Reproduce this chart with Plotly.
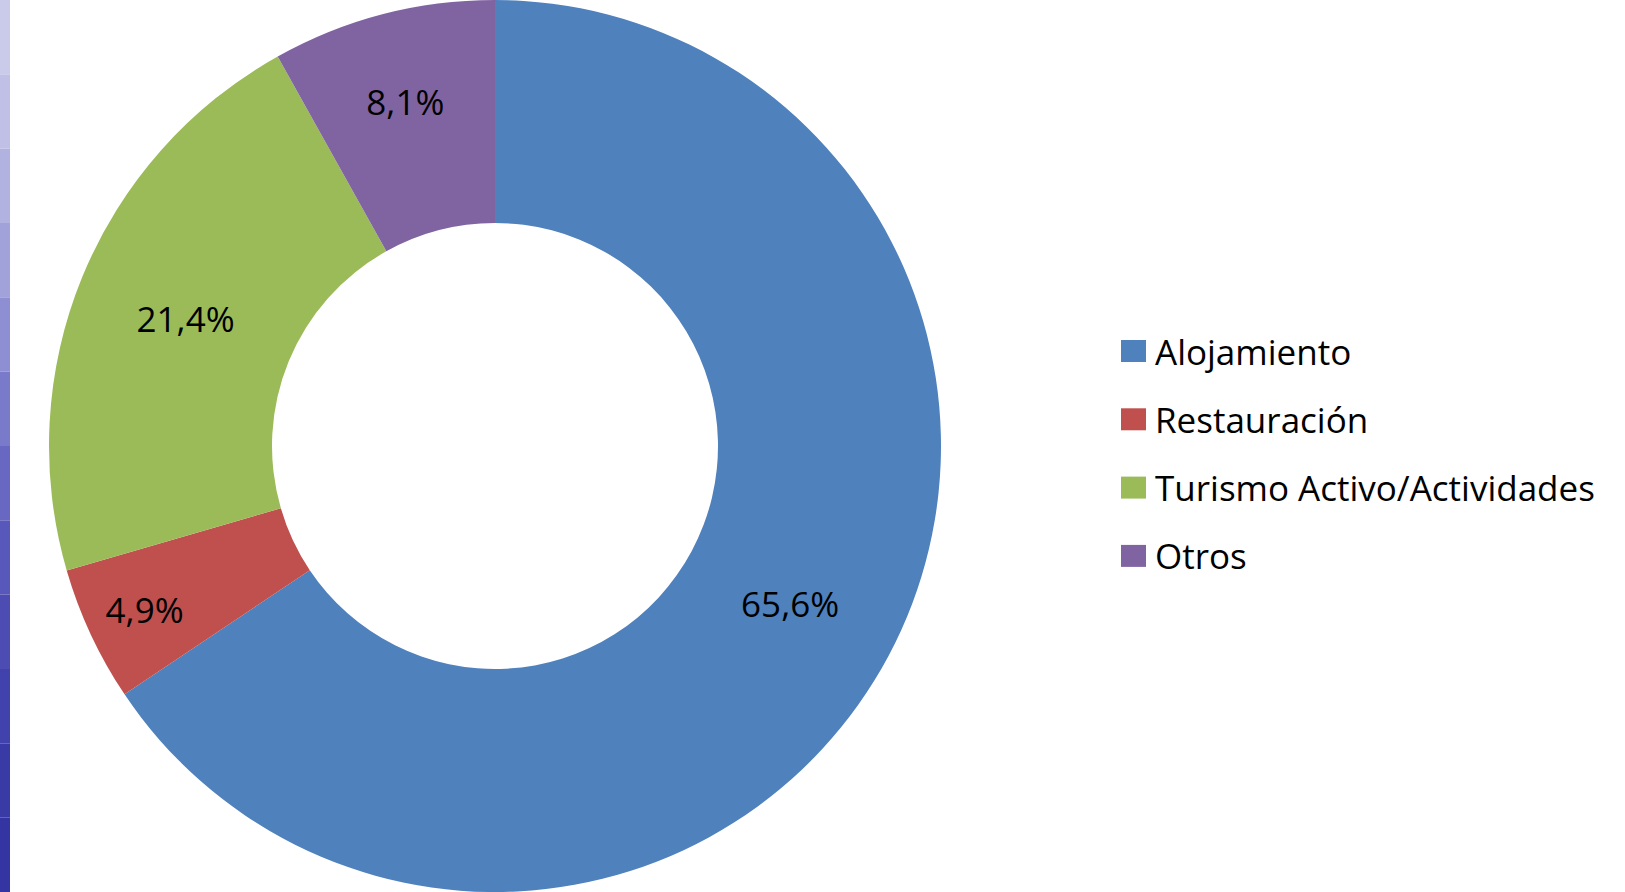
import plotly.graph_objects as go

categories = ["Alojamiento", "Restauración", "Turismo Activo/Actividades", "Otros"]
values = [65.6, 4.9, 21.4, 8.1]
colors = ["#4F81BD", "#C0504D", "#9BBB59", "#8064A2"]
strip_colors = ["#cacaea", "#c0c0e6", "#b2b2e0", "#a2a2da", "#8e8ed2", "#7a7acb",
                "#6868c2", "#5858ba", "#4c4cb2", "#4242ac", "#3a3aa6", "#3434a2"]

FONT = "Open Sans"
W, H = 1625, 892

fig = go.Figure()
fig.add_trace(go.Pie(
    labels=categories,
    values=values,
    hole=0.5,
    sort=False,
    direction="clockwise",
    rotation=0,
    marker=dict(colors=colors, line=dict(width=0)),
    texttemplate="%{percent:.1%}",
    textposition="inside",
    insidetextorientation="horizontal",
    textfont=dict(family=FONT, size=35, color="#000000"),
    domain=dict(x=[49 / W, 941 / W], y=[0, 1]),
    showlegend=False,
))

shapes = []
annotations = []
# background strip on the left edge
n = len(strip_colors)
for i, c in enumerate(strip_colors):
    shapes.append(dict(type="rect", xref="paper", yref="paper",
                       x0=0, x1=10 / W, y0=1 - (i + 1) / n, y1=1 - i / n,
                       fillcolor=c, line=dict(width=0), layer="below"))

# legend built from the category list
y_first = 351
gap = 68.3
for i, (lab, c) in enumerate(zip(categories, colors)):
    yc = y_first + i * gap
    shapes.append(dict(type="rect", xref="paper", yref="paper",
                       x0=1121 / W, x1=1146 / W,
                       y0=1 - (yc + 11) / H, y1=1 - (yc - 11) / H,
                       fillcolor=c, line=dict(width=0)))
    annotations.append(dict(xref="paper", yref="paper", x=1153 / W, y=1 - yc / H,
                            xanchor="left", yanchor="middle", showarrow=False,
                            text=lab, font=dict(family=FONT, size=35, color="#000000")))

fig.update_layout(
    width=W, height=H,
    margin=dict(l=0, r=0, t=0, b=0),
    paper_bgcolor="white",
    plot_bgcolor="white",
    separators=",.",
    shapes=shapes,
    annotations=annotations,
)

fig.write_html("out.html")
